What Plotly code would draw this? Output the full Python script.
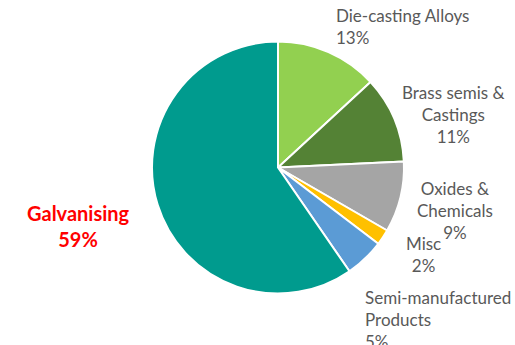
import plotly.graph_objects as go

# Zinc end uses, share of consumption (%)
segments = ["Die-casting Alloys", "Brass semis &<br>Castings", "Oxides &<br>Chemicals",
            "Misc", "Semi-manufactured<br>Products", "Galvanising"]
shares = [13, 11, 9, 2, 5, 59]
colors = ["#92D050", "#548235", "#A5A5A5", "#FFC000", "#5B9BD5", "#009B8E"]

W, H = 515, 345

fig = go.Figure(go.Pie(
    labels=segments,
    values=shares,
    sort=False,
    direction="clockwise",
    rotation=0,
    marker=dict(colors=colors, line=dict(color="white", width=2)),
    textinfo="none",
    showlegend=False,
    domain=dict(x=[(278 - 126) / W, (278 + 126) / W],
                y=[(177.5 - 126) / H, (177.5 + 126) / H]),
))

# label placement (pixel positions) and styling for each segment
label_pos = [
    (334, 27, "left", "left"),
    (453, 115, "center", "center"),
    (455, 210, "center", "center"),
    (423, 255, "center", "center"),
    (363, 319, "left", "left"),
    (78, 226, "center", "center"),
]

for i, (name, val) in enumerate(zip(segments, shares)):
    px, py, xanchor, align = label_pos[i]
    galv = name == "Galvanising"
    text = f"{name}<br>{val}%"
    if galv:
        text = f"<b>{text}</b>"
    fig.add_annotation(
        x=px / W, y=1 - py / H, xref="paper", yref="paper",
        text=text, showarrow=False, xanchor=xanchor, yanchor="middle", align=align,
        font=dict(family="Lato", size=20 if galv else 17,
                  color="#FF0000" if galv else "#595959"),
    )

fig.update_layout(
    width=W, height=H,
    margin=dict(l=0, r=0, t=0, b=0),
    paper_bgcolor="white",
    plot_bgcolor="white",
)

fig.write_html("out.html")
